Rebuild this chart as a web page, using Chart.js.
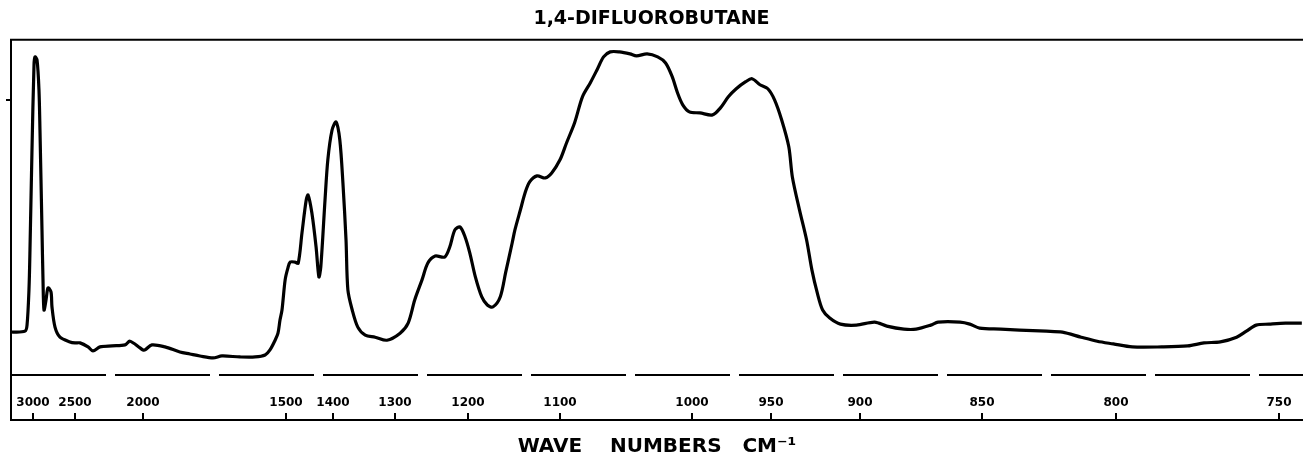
<!DOCTYPE html>
<html>
<head>
<meta charset="utf-8">
<title>1,4-Difluorobutane IR spectrum</title>
<script src="https://cdn.jsdelivr.net/npm/chart.js@4.4.1/dist/chart.umd.min.js"></script>
<style>
  body { margin: 0; background: #fff; }
  canvas { display: block; }
</style>
</head>
<body>
<canvas id="spectrum" width="1303" height="461"></canvas>
<script>
// wave numbers (cm-1) printed under the chart, and where each sits on the chart paper
// (the paper scale is not linear in wave number, so it is calibrated tick by tick)
var tickWn  = [3000, 2500, 2000, 1500, 1400, 1300, 1200, 1100, 1000, 950, 900, 850, 800, 750];
var tickPos = [22, 64, 132, 275, 322, 384, 457, 549, 681, 760, 849, 971, 1105, 1268];
var paperStart = 0, paperEnd = 1292;

// spectrum: wave number and absorption (% above the dashed zero line)
var wavenumbers = [3250,3095,3071,3048,3036,3012,2988,2976,2952,2929,
  2917,2893,2881,2869,2845,2821,2786,2774,2738,2679,
  2560,2500,2463,2404,2368,2316,2228,2132,2096,2022,
  2000,1993,1969,1923,1871,1836,1801,1755,1724,1661,
  1608,1573,1556,1538,1528,1521,1514,1503,1496,1491,
  1481,1474,1466,1457,1453,1445,1436,1430,1426,1417,
  1411,1402,1395,1389,1384,1379,1376,1369,1360,1348,
  1332,1313,1293,1282,1273,1263,1255,1245,1232,1225,
  1218,1211,1204,1198,1192,1185,1179,1173,1165,1159,
  1152,1149,1143,1138,1133,1125,1116,1109,1100,1095,
  1089,1083,1077,1072,1067,1062,1055,1047,1042,1034,
  1026,1020,1015,1011,1007,1002,995,987,982,977,
  972,966,962,957,952,948,944,940,938,934,
  930,927,924,921,917,911,902,894,889,882,
  877,871,868,859,855,851,843,836,826,820,
  813,807,801,795,786,778,773,768,763,760,
  757,753,748,743];
var absorption = [12.8,13.1,14.9,25.4,37.3,67.2,92.5,94.9,94.0,85.1,
  73.1,43.3,28.4,19.4,22.4,26.0,24.8,20.3,14.3,11.3,
  9.9,9.6,9.6,8.4,7.2,8.4,8.7,9.0,10.1,8.1,
  7.5,7.5,9.0,8.4,6.9,6.3,5.7,5.1,5.7,5.4,
  5.4,6.0,7.5,10.4,12.5,16.4,19.4,28.4,31.9,33.7,
  33.7,33.4,42.4,52.2,53.7,48.4,38.2,29.3,32.2,52.2,
  64.2,73.1,75.5,70.1,57.3,40.3,25.4,19.4,14.3,11.9,
  11.3,10.4,12.5,15.5,22.4,28.4,33.4,35.5,35.2,38.2,
  43.3,44.2,41.2,36.4,29.3,23.3,20.9,20.3,23.3,30.7,
  39.4,43.3,49.3,54.3,57.6,59.4,58.8,60.3,64.2,69.3,
  75.2,83.0,87.2,91.0,94.9,96.4,96.4,95.8,95.2,95.8,
  94.9,93.1,89.0,84.2,80.6,78.5,78.2,77.6,79.7,83.0,
  85.4,87.5,88.4,86.6,85.4,82.1,76.1,68.1,59.1,49.3,
  40.3,31.3,24.5,19.4,17.0,15.2,14.9,15.8,14.6,13.7,
  13.7,14.9,15.8,15.8,15.2,14.0,13.7,13.4,13.1,12.8,
  11.3,10.1,9.3,8.4,8.4,8.7,9.6,9.9,11.3,13.1,
  14.9,15.2,15.5,15.5];

var yMin = -13.4, yMax = 100;
var yMarkLevel = 82;   // little calibration mark on the left edge

// wave number -> position on the chart paper (piecewise between calibrated ticks)
function toPos(wn) {
    var i = 0;
    while (i < tickWn.length - 2 && wn < tickWn[i + 1]) i++;
    var w0 = tickWn[i], w1 = tickWn[i + 1], p0 = tickPos[i], p1 = tickPos[i + 1];
    return p0 + (w0 - wn) * (p1 - p0) / (w0 - w1);
}

var tracePoints = wavenumbers.map(function(wn, i) {
    return { x: toPos(wn), y: absorption[i] };
});

// top border and the short upward tick marks on the wave number axis
var chartFrame = {
    id: 'chartFrame',
    afterDraw: function(chart) {
        var ctx = chart.ctx, a = chart.chartArea, x = chart.scales.x;
        ctx.save();
        ctx.strokeStyle = '#000';
        ctx.lineWidth = 2;
        ctx.beginPath();
        ctx.moveTo(a.left - 1, a.top);
        ctx.lineTo(a.right, a.top);
        x.ticks.forEach(function(t) {
            var px = x.getPixelForValue(t.value);
            ctx.moveTo(px, a.bottom);
            ctx.lineTo(px, a.bottom - 7);
        });
        ctx.stroke();
        ctx.restore();
    }
};

var ctx = document.getElementById('spectrum').getContext('2d');
var spectrumChart = new Chart(ctx, {
    type: 'line',
    data: {
        datasets: [{
            label: 'Absorption',
            data: tracePoints,
            borderColor: '#000',
            borderWidth: 3.2,
            pointRadius: 0,
            fill: false,
            tension: 0.3
        }, {
            label: 'Zero',
            data: [{ x: paperStart, y: 0 }, { x: paperEnd, y: 0 }],
            borderColor: '#000',
            borderWidth: 2,
            borderDash: [95, 9],
            pointRadius: 0,
            fill: false
        }]
    },
    options: {
        responsive: false,
        animation: false,
        devicePixelRatio: 1,
        layout: { padding: 0 },
        plugins: {
            legend: { display: false },
            tooltip: { enabled: false },
            title: {
                display: true,
                text: '1,4-DIFLUOROBUTANE',
                color: '#000',
                font: { family: 'DejaVu Sans', size: 19, weight: 'bold', lineHeight: 1.2 },
                padding: { top: 8, bottom: 9 }
            }
        },
        scales: {
            x: {
                type: 'linear',
                min: paperStart,
                max: paperEnd,
                afterFit: function(scale) { scale.height = 41; },
                afterBuildTicks: function(scale) {
                    scale.ticks = tickWn.map(function(wn) { return { value: toPos(wn) }; });
                },
                ticks: {
                    mirror: true,
                    padding: 10,
                    autoSkip: false,
                    maxRotation: 0,
                    color: '#000',
                    font: { family: 'DejaVu Sans', size: 12, weight: 'bold' },
                    callback: function(value, index) { return tickWn[index]; }
                },
                grid: { display: false, drawTicks: false },
                border: { display: true, color: '#000', width: 2 },
                title: {
                    display: true,
                    text: 'WAVE    NUMBERS   CM\u207B\u00B9',
                    color: '#000',
                    font: { family: 'DejaVu Sans', size: 20, weight: 'bold', lineHeight: 1.2 },
                    padding: { top: 0, bottom: 2 }
                }
            },
            y: {
                min: yMin,
                max: yMax,
                afterFit: function(scale) { scale.width = 11; },
                afterBuildTicks: function(scale) { scale.ticks = [{ value: yMarkLevel }]; },
                ticks: { display: false },
                grid: { drawOnChartArea: false, drawTicks: true, tickLength: 5, color: '#000', lineWidth: 2 },
                border: { display: true, color: '#000', width: 2 }
            }
        }
    },
    plugins: [chartFrame]
});
</script>
</body>
</html>
